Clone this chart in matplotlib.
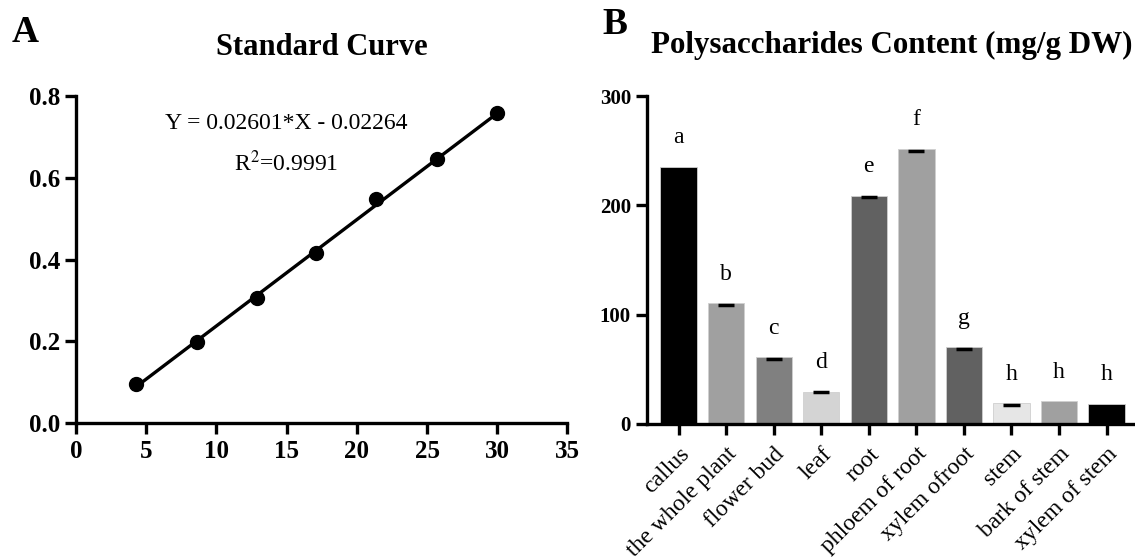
import numpy as np
import matplotlib
matplotlib.use('Agg')
import matplotlib.pyplot as plt

plt.rcParams['font.family'] = 'Liberation Serif'
plt.rcParams['mathtext.fontset'] = 'stix'

# standard curve data
std_x = [4.3, 8.6, 12.9, 17.1, 21.4, 25.7, 30.0]
std_y = [0.095, 0.197, 0.305, 0.416, 0.547, 0.645, 0.758]
slope = 0.02601
intercept = -0.02264

# polysaccharides content
tissues = ['callus', 'the whole plant', 'flower bud', 'leaf', 'root',
           'phloem of root', 'xylem ofroot', 'stem', 'bark of stem', 'xylem of stem']
content = [235.5, 110.5, 61.0, 29.5, 209.0, 251.5, 70.0, 19.0, 20.8, 18.5]
content_sd = [0, 2.0, 2.0, 0.5, 1.5, 1.5, 1.5, 2.0, 0, 0]
groups = ['a', 'b', 'c', 'd', 'e', 'f', 'g', 'h', 'h', 'h']
bar_colors = ['#000000', '#a0a0a0', '#808080', '#d4d4d4', '#616161',
              '#a0a0a0', '#616161', '#e6e6e6', '#a0a0a0', '#000000']

fig = plt.figure(figsize=(11.35, 5.57), dpi=100)
lw = 2.4

def style(ax, size):
    for s in ['top', 'right']:
        ax.spines[s].set_visible(False)
    for s in ['left', 'bottom']:
        ax.spines[s].set_linewidth(lw)
    ax.tick_params(width=lw, length=8, labelsize=size, direction='out')
    for t in ax.get_yticklabels():
        t.set_fontweight('bold')

# panel A
ax1 = fig.add_axes([0.067, 0.2406, 0.4329, 0.587])
ax1.plot(std_x, std_y, 'o', color='black', markersize=10)
fx = np.array([min(std_x), max(std_x)])
ax1.plot(fx, slope * fx + intercept, color='black', lw=lw)
ax1.set_xlim(0, 35)
ax1.set_ylim(0, 0.8)
ax1.set_xticks(range(0, 36, 5))
ax1.set_yticks([0.0, 0.2, 0.4, 0.6, 0.8])
ax1.set_yticklabels(['0.0', '0.2', '0.4', '0.6', '0.8'])
style(ax1, 18)
ax1.tick_params(axis='x', pad=4)
for t in ax1.get_xticklabels():
    t.set_fontweight('bold')
ax1.text(15, 0.733, 'Y = 0.02601*X - 0.02264', fontsize=17, ha='center', va='center')
ax1.text(15, 0.636, 'R$^2$=0.9991', fontsize=17, ha='center', va='center')
fig.text(0.2835, 0.9013, 'Standard Curve', fontsize=22, fontweight='bold',
         ha='center', va='baseline')
fig.text(0.0103, 0.9416, 'A', fontsize=27, fontweight='bold', va='center')

# panel B
ax2 = fig.add_axes([0.570, 0.2388, 0.428, 0.5888])
xpos = np.arange(len(tissues))
ax2.bar(xpos, content, width=0.765, color=bar_colors, edgecolor='#cfcfcf', linewidth=0.6)
sd = np.array(content_sd)
val = np.array(content)
has = sd > 0
ax2.hlines(val[has] - sd[has], xpos[has] - 0.17, xpos[has] + 0.17, color='black', lw=2.5)
for x, v, g in zip(xpos, content, groups):
    ax2.text(x, v + 17, g, fontsize=17, ha='center', va='bottom')
ax2.set_xlim(-0.666, 9.55)
ax2.set_ylim(0, 300)
ax2.set_yticks([0, 100, 200, 300])
ax2.set_xticks(xpos)
ax2.set_xticklabels(tissues, rotation=45, ha='right', rotation_mode='anchor')
style(ax2, 15)
ax2.tick_params(axis='x', pad=6, labelsize=17)
fig.text(0.786, 0.9054, 'Polysaccharides Content (mg/g DW)', fontsize=22.3,
         fontweight='bold', ha='center', va='baseline')
fig.text(0.531, 0.9557, 'B', fontsize=27, fontweight='bold', va='center')

fig.savefig('out.png', dpi=100)
